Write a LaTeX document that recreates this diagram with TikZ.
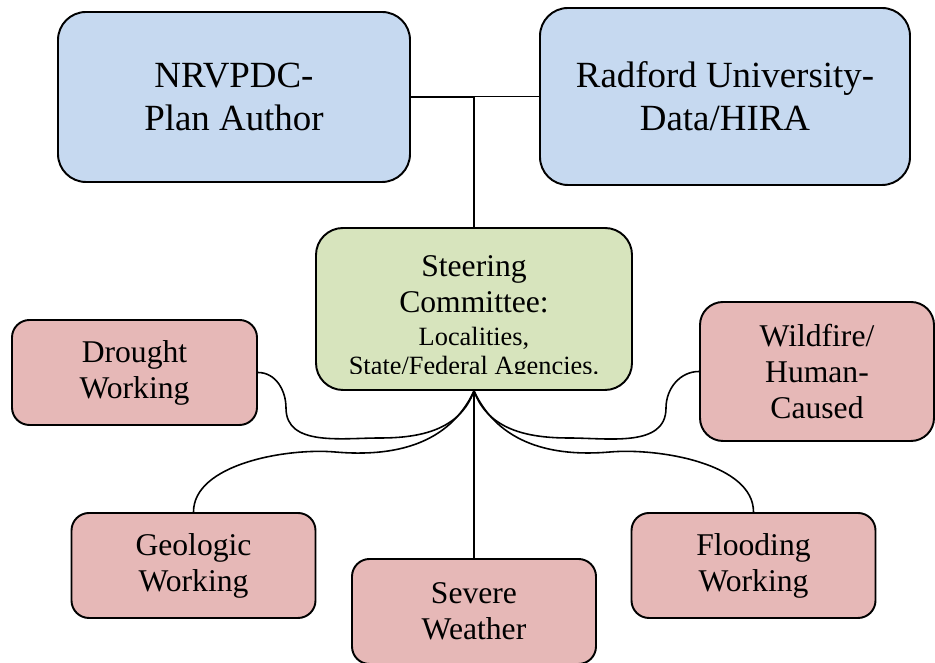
\documentclass[tikz,border=0pt]{standalone}
\usepackage{fontspec}
\setmainfont{Liberation Serif}
\definecolor{planblue}{RGB}{198,217,240}
\definecolor{steergreen}{RGB}{215,228,189}
\definecolor{workpink}{RGB}{230,184,183}
\newcommand{\bigtxt}{\fontsize{21}{24.5}\selectfont}
\newcommand{\midtxt}{\fontsize{18}{20.5}\selectfont}
\newcommand{\committeetxt}{\fontsize{15}{16.5}\selectfont}

\begin{document}
\begin{tikzpicture}[
  topbox/.style={draw=black,line width=1.1pt,fill=planblue,rounded corners=0.56cm,align=center,inner sep=0pt,font=\bigtxt,minimum height=3.4cm},
  steerbox/.style={draw=black,line width=1.1pt,fill=steergreen,rounded corners=0.54cm,minimum width=6.32cm,minimum height=3.24cm},
  workbox/.style={draw=black,line width=1.1pt,fill=workpink,rounded corners=0.35cm,align=center,inner sep=0pt,font=\midtxt,minimum width=4.88cm,minimum height=2.1cm},
  link/.style={line width=0.9pt}]
\useasboundingbox (0,0) rectangle (18.7,13.26);
\node[topbox,minimum width=7.04cm] (nrv) at (4.68,11.32) {NRVPDC-\\Plan Author};
\node[topbox,minimum width=7.4cm,minimum height=3.54cm] (rad) at (14.5,11.33) {Radford University-\\Data/HIRA};
\node[steerbox] (steer) at (9.48,7.08) {};
\begin{scope}
\clip ([yshift=0.34cm]steer.south west) rectangle (steer.north east);
\node[anchor=north,align=center,inner sep=0pt,font=\midtxt] (steertext) at ([yshift=-0.57cm]steer.north) {Steering\\Committee:\\[-1.8pt]\committeetxt Localities,\\[-4.1pt]\committeetxt State/Federal Agencies.};
\end{scope}
\node[workbox,minimum width=4.9cm] (drought) at (2.69,5.81) {Drought\\Working};
\node[workbox,minimum width=4.68cm,minimum height=2.78cm,rounded corners=0.46cm] (wild) at (16.34,5.83) {Wildfire/\\Human-\\Caused};
\node[workbox] (geo) at (3.87,1.95) {Geologic\\Working};
\node[workbox] (flood) at (15.07,1.95) {Flooding\\Working};
\node[workbox] (severe) at (9.48,1.03) {Severe\\Weather};

\coordinate (dturn) at (5.72,5.10);
\coordinate (dlow) at (7.6,4.5);
\coordinate (gflat) at (6.7,4.22);
\coordinate (wturn) at (13.32,5.10);
\coordinate (wlow) at (11.38,4.5);
\coordinate (fflat) at (12.2,4.22);

\draw[link] (nrv.east) -- (nrv.east -| steer.north);
\draw[link] (rad.west) -| (steer.north);
\draw[link] (drought.east) to[out=0,in=90] (dturn) to[out=-90,in=180] (dlow) to[out=0,in=-110] (steer.south);
\draw[link] (geo.north) to[out=90,in=175,looseness=0.8] (gflat) to[out=-5,in=-115] (steer.south);
\draw[link] (wild.west) to[out=180,in=90] (wturn) to[out=-90,in=0] (wlow) to[out=180,in=-70] (steer.south);
\draw[link] (flood.north) to[out=90,in=5,looseness=0.8] (fflat) to[out=185,in=-65] (steer.south);
\draw[link] (steer.south) -- (severe.north);
\end{tikzpicture}
\end{document}
